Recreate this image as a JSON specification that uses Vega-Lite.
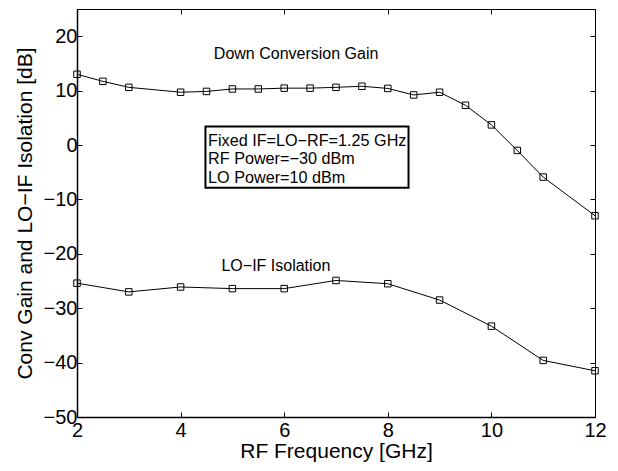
{
  "$schema": "https://vega.github.io/schema/vega-lite/v6.json",
  "autosize": "none",
  "width": 518,
  "height": 408,
  "padding": {"left": 77, "top": 9, "right": 23, "bottom": 54},
  "background": "white",
  "config": {
    "view": {"stroke": "black", "strokeWidth": 1},
    "font": "Liberation Sans",
    "axis": {
      "domainColor": "black",
      "tickColor": "black",
      "labelColor": "black",
      "titleColor": "black",
      "labelFont": "Liberation Sans",
      "titleFont": "Liberation Sans",
      "labelFontSize": 20,
      "titleFontSize": 21,
      "titleFontWeight": "normal",
      "grid": false,
      "tickSize": -5,
      "labelFlush": false,
      "labelOverlap": false,
      "domainWidth": 1.5
    }
  },
  "datasets": {
    "series": [
      {"f": 2, "v": 13.0, "s": "gain"},
      {"f": 2.5, "v": 11.7, "s": "gain"},
      {"f": 3, "v": 10.6, "s": "gain"},
      {"f": 4, "v": 9.7, "s": "gain"},
      {"f": 4.5, "v": 9.85, "s": "gain"},
      {"f": 5, "v": 10.3, "s": "gain"},
      {"f": 5.5, "v": 10.3, "s": "gain"},
      {"f": 6, "v": 10.45, "s": "gain"},
      {"f": 6.5, "v": 10.45, "s": "gain"},
      {"f": 7, "v": 10.6, "s": "gain"},
      {"f": 7.5, "v": 10.8, "s": "gain"},
      {"f": 8, "v": 10.4, "s": "gain"},
      {"f": 8.5, "v": 9.2, "s": "gain"},
      {"f": 9, "v": 9.7, "s": "gain"},
      {"f": 9.5, "v": 7.3, "s": "gain"},
      {"f": 10, "v": 3.7, "s": "gain"},
      {"f": 10.5, "v": -1.0, "s": "gain"},
      {"f": 11, "v": -5.9, "s": "gain"},
      {"f": 12, "v": -13.0, "s": "gain"},
      {"f": 2, "v": -25.4, "s": "iso"},
      {"f": 3, "v": -27.0, "s": "iso"},
      {"f": 4, "v": -26.1, "s": "iso"},
      {"f": 5, "v": -26.4, "s": "iso"},
      {"f": 6, "v": -26.4, "s": "iso"},
      {"f": 7, "v": -24.9, "s": "iso"},
      {"f": 8, "v": -25.5, "s": "iso"},
      {"f": 9, "v": -28.5, "s": "iso"},
      {"f": 10, "v": -33.3, "s": "iso"},
      {"f": 11, "v": -39.6, "s": "iso"},
      {"f": 12, "v": -41.5, "s": "iso"}
    ],
    "box": [{"x1": 4.48, "x2": 8.40, "y1": 3.39, "y2": -7.85}],
    "labels": [
      {"x": 6.23, "y": 15.9, "t": "Down Conversion Gain"},
      {"x": 5.84, "y": -23.25, "t": "LO\u2212IF Isolation"}
    ],
    "boxtext": [
      {"x": 4.53, "y": -0.11, "t": "Fixed IF=LO\u2212RF=1.25 GHz"},
      {"x": 4.53, "y": -3.52, "t": "RF Power=\u221230 dBm"},
      {"x": 4.53, "y": -6.94, "t": "LO Power=10 dBm"}
    ]
  },
  "layer": [
    {
      "data": {"name": "series"},
      "mark": {"type": "line", "color": "black", "strokeWidth": 1, "clip": false,
               "point": {"shape": "square", "filled": false, "size": 42, "color": "black", "strokeWidth": 1}},
      "encoding": {
        "x": {"field": "f", "type": "quantitative",
              "scale": {"domain": [2, 12], "nice": false, "zero": false},
              "axis": {"orient": "bottom", "values": [2, 4, 6, 8, 10, 12], "title": "RF Frequency [GHz]",
                       "labelPadding": 8, "titlePadding": 0}},
        "y": {"field": "v", "type": "quantitative",
              "scale": {"domain": [-50, 25], "nice": false, "zero": false},
              "axis": {"orient": "left", "values": [-50, -40, -30, -20, -10, 0, 10, 20],
                       "title": "Conv Gain and LO\u2212IF Isolation [dB]", "labelPadding": 5, "titlePadding": 8}},
        "detail": {"field": "s"}
      }
    },
    {
      "data": {"name": "box"},
      "mark": {"type": "rect", "fill": "white", "stroke": "black", "strokeWidth": 2},
      "encoding": {
        "x": {"field": "x1", "type": "quantitative",
              "axis": {"orient": "top", "values": [2, 4, 6, 8, 10, 12], "labels": false, "title": null, "domainWidth": 1}},
        "x2": {"field": "x2"},
        "y": {"field": "y1", "type": "quantitative",
              "axis": {"orient": "right", "values": [-50, -40, -30, -20, -10, 0, 10, 20], "labels": false, "title": null, "domainWidth": 1}},
        "y2": {"field": "y2"}
      }
    },
    {
      "data": {"name": "labels"},
      "mark": {"type": "text", "color": "black", "font": "Liberation Sans", "fontSize": 16, "align": "center", "baseline": "alphabetic"},
      "encoding": {
        "x": {"field": "x", "type": "quantitative", "axis": null},
        "y": {"field": "y", "type": "quantitative", "axis": null},
        "text": {"field": "t"}
      }
    },
    {
      "data": {"name": "boxtext"},
      "mark": {"type": "text", "color": "black", "font": "Liberation Sans", "fontSize": 16.2, "align": "left", "baseline": "alphabetic"},
      "encoding": {
        "x": {"field": "x", "type": "quantitative", "axis": null},
        "y": {"field": "y", "type": "quantitative", "axis": null},
        "text": {"field": "t"}
      }
    }
  ],
  "resolve": {"axis": {"x": "independent", "y": "independent"}}
}
